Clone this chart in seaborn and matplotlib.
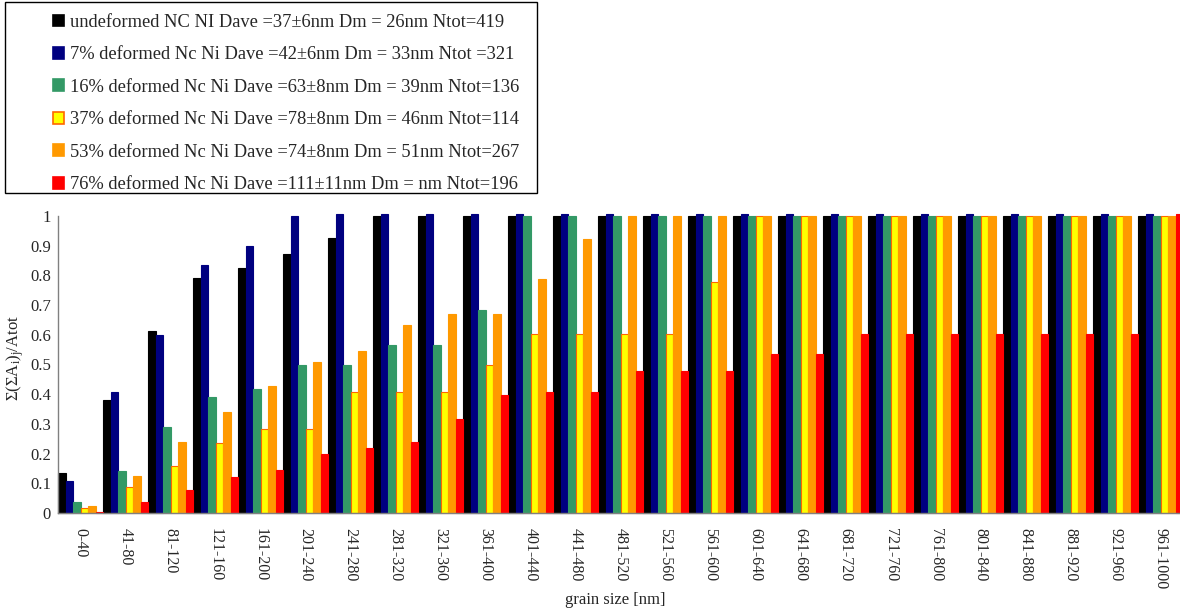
import matplotlib
matplotlib.use("Agg")
import matplotlib.pyplot as plt
import matplotlib.patches as mpatches
import numpy as np
import pandas as pd
import seaborn as sns

# Grain-size classes (nm)
size_classes = ["0-40", "41-80", "81-120", "121-160", "161-200", "201-240", "241-280",
                "281-320", "321-360", "361-400", "401-440", "441-480", "481-520",
                "521-560", "561-600", "601-640", "641-680", "681-720", "721-760",
                "761-800", "801-840", "841-880", "881-920", "921-960", "961-1000"]

series_labels = [
    "undeformed NC NI Dave =37\u00b16nm Dm = 26nm Ntot=419",
    "7% deformed Nc Ni Dave =42\u00b16nm Dm = 33nm Ntot =321",
    "16% deformed Nc Ni Dave =63\u00b18nm Dm = 39nm Ntot=136",
    "37% deformed Nc Ni Dave =78\u00b18nm Dm = 46nm Ntot=114",
    "53% deformed Nc Ni Dave =74\u00b18nm Dm = 51nm Ntot=267",
    "76% deformed Nc Ni Dave =111\u00b111nm Dm = nm Ntot=196",
]

ytick_labels = ["0", "0.1", "0.2", "0.3", "0.4", "0.5", "0.6", "0.7", "0.8", "0.9", "1"]

# Cumulative area fraction per size class
undeformed = [0.135, 0.381, 0.611, 0.790, 0.826, 0.872, 0.925, 1.0, 1.0, 1.0, 1.0, 1.0, 1.0,
              1.0, 1.0, 1.0, 1.0, 1.0, 1.0, 1.0, 1.0, 1.0, 1.0, 1.0, 1.0]
def7 = [0.109, 0.409, 0.600, 0.835, 0.899, 1.0, 1.006, 1.006, 1.006, 1.006, 1.006, 1.006,
        1.006, 1.006, 1.006, 1.006, 1.006, 1.006, 1.006, 1.006, 1.006, 1.006, 1.006, 1.006, 1.006]
def16 = [0.037, 0.142, 0.291, 0.389, 0.418, 0.499, 0.499, 0.564, 0.564, 0.685, 1.0, 1.0, 1.0,
         1.0, 1.0, 1.0, 1.0, 1.0, 1.0, 1.0, 1.0, 1.0, 1.0, 1.0, 1.0]
def37 = [0.018, 0.086, 0.159, 0.234, 0.283, 0.283, 0.408, 0.408, 0.408, 0.498, 0.602, 0.602,
         0.602, 0.602, 0.777, 1.0, 1.0, 1.0, 1.0, 1.0, 1.0, 1.0, 1.0, 1.0, 1.0]
def53 = [0.022, 0.123, 0.240, 0.341, 0.429, 0.507, 0.547, 0.632, 0.669, 0.669, 0.787, 0.924,
         1.0, 1.0, 1.0, 1.0, 1.0, 1.0, 1.0, 1.0, 1.0, 1.0, 1.0, 1.0, 1.0]
def76 = [0.005, 0.037, 0.077, 0.122, 0.146, 0.200, 0.220, 0.240, 0.317, 0.398, 0.406, 0.406,
         0.479, 0.479, 0.479, 0.536, 0.536, 0.603, 0.603, 0.603, 0.603, 0.603, 0.603, 0.603, 1.006]

series_values = [undeformed, def7, def16, def37, def53, def76]
colors = ["#000000", "#000080", "#339966", "#FFFF00", "#FF9900", "#FF0000"]
edge_colors = ["#000000", "#000080", "#339966", "#FF6600", "#FF9900", "#FF0000"]

rows = []
for lab, vals in zip(series_labels, series_values):
    for cls, v in zip(size_classes, vals):
        rows.append({"size": cls, "frac": v, "sample": lab})
df = pd.DataFrame(rows)

sns.set_style("white")
plt.rcParams["font.family"] = ["Liberation Serif", "DejaVu Serif"]
plt.rcParams["mathtext.fontset"] = "custom"
plt.rcParams["mathtext.rm"] = "Liberation Serif"
plt.rcParams["mathtext.it"] = "Liberation Serif"

W, H = 1180, 609
fig = plt.figure(figsize=(W / 100, H / 100), dpi=100)
ax = fig.add_axes([58 / W, 96 / H, 1125 / W, 303 / H])

sns.barplot(data=df, x="size", y="frac", hue="sample", hue_order=series_labels,
            order=size_classes, palette=colors, saturation=1, width=1.0,
            errorbar=None, legend=False, ax=ax)

for cont, ec in zip(ax.containers, edge_colors):
    for bar in cont:
        bar.set_edgecolor(ec)
        bar.set_linewidth(0.8)
        bar.set_clip_on(False)

ax.set_xlim(-0.5, len(size_classes) - 0.5)
ax.set_ylim(0, 1.02)
ax.set_yticks(np.arange(0, 1.01, 0.1))
ax.set_yticklabels(ytick_labels, fontsize=12)
ax.set_xticks(range(len(size_classes)))
ax.set_xticklabels(size_classes, rotation=-90, fontsize=11.5, va="top", ha="center")
ax.set_xticks(np.arange(-0.5, len(size_classes), 1.0), minor=True)
ax.tick_params(axis="x", which="major", length=0, pad=11)
ax.tick_params(axis="x", which="minor", length=5, width=1, color="#808080", direction="out")
ax.tick_params(axis="y", length=4, width=1, color="#808080", direction="out", pad=1)

for s in ["top", "right"]:
    ax.spines[s].set_visible(False)
for s in ["left", "bottom"]:
    ax.spines[s].set_color("#808080")
    ax.spines[s].set_linewidth(1)
ax.spines["left"].set_bounds(0, 1)

ax.set_ylabel(r"$\Sigma(\Sigma\mathrm{A_i})_j\mathrm{/Atot}$", fontsize=12)
ax.yaxis.set_label_coords(-0.0284, 0.51)
ax.set_xlabel("grain size [nm]", fontsize=12)
ax.xaxis.set_label_coords(0.495, -0.262)

# Legend with its own frame
handles = [mpatches.Patch(facecolor=c, edgecolor=e, linewidth=1.2)
           for c, e in zip(colors, edge_colors)]
leg = fig.legend(handles, series_labels, loc="upper left",
                 bbox_to_anchor=(53 / W, 1 - 14 / H), frameon=False, fontsize=13.3,
                 handlelength=0.62, handleheight=0.62, handletextpad=0.28,
                 labelspacing=0.835, borderaxespad=0, borderpad=0)
box = mpatches.Rectangle((5 / W, 1 - 193 / H), 532 / W, 191 / H, transform=fig.transFigure,
                         fill=False, edgecolor="#000000", linewidth=1)
fig.add_artist(box)

fig.savefig("out.png", dpi=100)
